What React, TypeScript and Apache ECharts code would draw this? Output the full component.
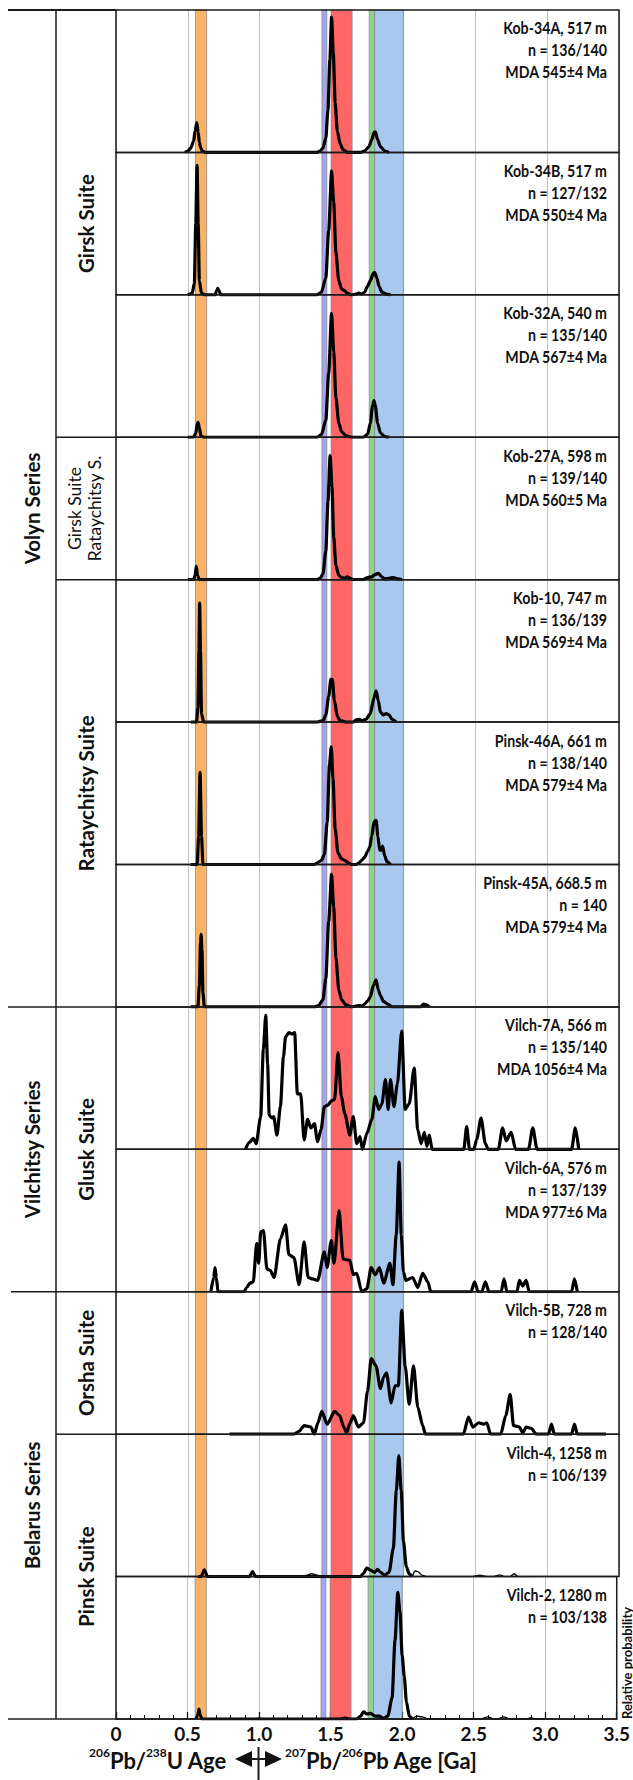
import React, { useEffect, useRef } from "react";
import * as echarts from "echarts";

type Pt = [number, number];

// ---------- data ----------
const ageTickLabels = ["0", "0.5", "1.0", "1.5", "2.0", "2.5", "3.0", "3.5"];

// reference age bands [from, to] in Ga
const bandOrange: Pt = [0.553, 0.631];
const bandPurple: Pt = [1.433, 1.467];
const bandRed: Pt = [1.497, 1.643];
const bandGreen: Pt = [1.762, 1.8];
const bandBlue: Pt = [1.8, 2.0];

// relative probability curves: [age Ga, relative probability 0..1]
const kob34A: Pt[] = [
  [0.48, 0], [0.5, 0.01], [0.52, 0.03], [0.54, 0.08], [0.55, 0.15], [0.562, 0.21], [0.572, 0.14], [0.58, 0.07], [0.59, 0.03], [0.6, 0.01], [0.62, 0],
  [1.4, 0], [1.42, 0.01], [1.44, 0.03], [1.46, 0.1], [1.475, 0.3], [1.488, 0.65], [1.5, 0.95], [1.512, 0.7], [1.525, 0.35], [1.54, 0.15], [1.56, 0.06], [1.58, 0.02], [1.61, 0],
  [1.7, 0], [1.73, 0.01], [1.76, 0.04], [1.78, 0.09], [1.795, 0.14], [1.805, 0.145], [1.82, 0.09], [1.84, 0.04], [1.87, 0.01], [1.9, 0],
];
const kob34B: Pt[] = [
  [0.5, 0], [0.53, 0.01], [0.545, 0.08], [0.555, 0.5], [0.564, 0.91], [0.572, 0.5], [0.58, 0.1], [0.595, 0.01], [0.62, 0],
  [0.69, 0], [0.7, 0.03], [0.708, 0.045], [0.716, 0.03], [0.73, 0],
  [1.4, 0], [1.43, 0.02], [1.46, 0.12], [1.48, 0.45], [1.5, 0.87], [1.515, 0.65], [1.53, 0.3], [1.55, 0.1], [1.57, 0.04], [1.59, 0.03], [1.61, 0.01], [1.64, 0],
  [1.67, 0.005], [1.69, 0.012], [1.71, 0.005], [1.73, 0.02], [1.75, 0.06], [1.77, 0.1], [1.79, 0.15], [1.8, 0.158], [1.815, 0.12], [1.83, 0.06], [1.85, 0.02], [1.88, 0.005], [1.91, 0],
];
const kob32A: Pt[] = [
  [0.5, 0], [0.54, 0], [0.555, 0.03], [0.565, 0.09], [0.571, 0.105], [0.58, 0.07], [0.59, 0.01], [0.61, 0],
  [1.4, 0], [1.43, 0.02], [1.46, 0.12], [1.48, 0.45], [1.5, 0.87], [1.515, 0.6], [1.53, 0.28], [1.55, 0.1], [1.57, 0.04], [1.6, 0.01], [1.64, 0],
  [1.72, 0], [1.75, 0.02], [1.77, 0.1], [1.785, 0.22], [1.795, 0.257], [1.805, 0.22], [1.82, 0.1], [1.84, 0.03], [1.87, 0.005], [1.9, 0],
];
const kob27A: Pt[] = [
  [0.5, 0], [0.54, 0], [0.55, 0.03], [0.559, 0.093], [0.567, 0.03], [0.58, 0],
  [1.4, 0], [1.42, 0.01], [1.44, 0.04], [1.46, 0.2], [1.475, 0.55], [1.49, 0.871], [1.503, 0.65], [1.515, 0.3], [1.53, 0.1], [1.55, 0.03], [1.57, 0.015], [1.59, 0.01], [1.61, 0.02], [1.63, 0.01], [1.65, 0],
  [1.72, 0], [1.75, 0.015], [1.78, 0.02], [1.8, 0.035], [1.825, 0.045], [1.85, 0.02], [1.87, 0.005], [1.9, 0.01], [1.93, 0.015], [1.96, 0.005], [1.99, 0],
];
const kob10: Pt[] = [
  [0.52, 0], [0.56, 0], [0.57, 0.1], [0.577, 0.5], [0.582, 0.836], [0.588, 0.5], [0.595, 0.06], [0.61, 0],
  [1.4, 0], [1.44, 0.01], [1.46, 0.05], [1.48, 0.18], [1.495, 0.3], [1.505, 0.3], [1.52, 0.15], [1.54, 0.04], [1.56, 0.01], [1.6, 0],
  [1.65, 0], [1.67, 0.015], [1.69, 0.02], [1.71, 0.01], [1.74, 0.02], [1.77, 0.06], [1.795, 0.17], [1.81, 0.22], [1.825, 0.15], [1.84, 0.07], [1.86, 0.05], [1.88, 0.06], [1.9, 0.05], [1.92, 0.02], [1.95, 0],
];
const pinsk46A: Pt[] = [
  [0.52, 0], [0.565, 0], [0.575, 0.2], [0.585, 0.647], [0.595, 0.2], [0.605, 0],
  [1.38, 0], [1.4, 0.01], [1.43, 0.03], [1.45, 0.07], [1.47, 0.3], [1.485, 0.7], [1.498, 0.826], [1.51, 0.6], [1.525, 0.25], [1.545, 0.08], [1.57, 0.04], [1.59, 0.03], [1.62, 0.01], [1.64, 0],
  [1.67, 0], [1.69, 0.01], [1.71, 0.03], [1.73, 0.05], [1.75, 0.09], [1.765, 0.12], [1.78, 0.2], [1.795, 0.3], [1.81, 0.31], [1.822, 0.2], [1.835, 0.1], [1.845, 0.1], [1.855, 0.13], [1.87, 0.06], [1.885, 0.02], [1.91, 0],
];
const pinsk45A: Pt[] = [
  [0.52, 0], [0.57, 0], [0.58, 0.15], [0.588, 0.45], [0.592, 0.51], [0.598, 0.4], [0.605, 0.1], [0.615, 0],
  [1.38, 0], [1.41, 0.01], [1.44, 0.05], [1.46, 0.2], [1.48, 0.6], [1.5, 0.93], [1.515, 0.7], [1.53, 0.35], [1.55, 0.12], [1.57, 0.05], [1.6, 0.015], [1.64, 0],
  [1.67, 0.005], [1.69, 0.01], [1.71, 0.005], [1.73, 0.02], [1.75, 0.04], [1.77, 0.07], [1.79, 0.15], [1.81, 0.19], [1.825, 0.12], [1.84, 0.08], [1.86, 0.04], [1.89, 0.02], [1.92, 0],
  [2.12, 0], [2.14, 0.02], [2.16, 0.015], [2.18, 0],
];
const vilch7A: Pt[] = [
  [0.9, 0], [0.93, 0.05], [0.955, 0.077], [0.975, 0.04], [1.007, 0.23], [1.025, 0.7], [1.042, 0.94], [1.055, 0.6], [1.066, 0.24], [1.085, 0.22], [1.097, 0.23], [1.12, 0.1],
  [1.144, 0.3], [1.165, 0.65], [1.18, 0.79], [1.203, 0.82], [1.226, 0.81], [1.243, 0.82], [1.262, 0.39], [1.285, 0.39], [1.309, 0.066], [1.333, 0.21], [1.356, 0.15], [1.38, 0.18],
  [1.403, 0.054], [1.427, 0.14], [1.45, 0.3], [1.474, 0.31], [1.498, 0.34], [1.521, 0.35], [1.545, 0.68], [1.568, 0.37], [1.592, 0.25], [1.627, 0.1], [1.651, 0.23], [1.675, 0.04],
  [1.698, 0.09], [1.715, 0], [1.745, 0.11], [1.78, 0.21], [1.804, 0.37], [1.828, 0.28], [1.85, 0.32], [1.875, 0.49], [1.894, 0.28], [1.91, 0.49], [1.934, 0.3], [1.958, 0.46],
  [1.988, 0.83], [2.012, 0.28], [2.04, 0.32], [2.075, 0.57], [2.099, 0.14], [2.123, 0.04], [2.146, 0.12], [2.163, 0.02], [2.18, 0.1], [2.2, 0],
  [2.42, 0], [2.44, 0.16], [2.46, 0], [2.49, 0], [2.51, 0.07], [2.54, 0.22], [2.57, 0.04], [2.59, 0], [2.66, 0], [2.69, 0.15], [2.715, 0.06], [2.75, 0.12], [2.78, 0],
  [2.87, 0], [2.9, 0.15], [2.93, 0], [3.17, 0], [3.196, 0.15], [3.22, 0],
];
const vilch6A: Pt[] = [
  [0.66, 0], [0.68, 0.1], [0.689, 0.17], [0.698, 0.1], [0.71, 0], [0.89, 0], [0.91, 0.03], [0.932, 0.06], [0.955, 0.07], [0.979, 0.34], [0.993, 0.2], [1.007, 0.42], [1.026, 0.43],
  [1.05, 0.16], [1.073, 0.15], [1.1, 0.1], [1.144, 0.37], [1.18, 0.47], [1.203, 0.26], [1.238, 0.24], [1.274, 0.05], [1.309, 0.35], [1.337, 0.1], [1.368, 0.09], [1.403, 0.08],
  [1.45, 0.28], [1.469, 0.17], [1.498, 0.36], [1.517, 0.2], [1.552, 0.57], [1.58, 0.23], [1.627, 0.22], [1.651, 0.12], [1.675, 0.13], [1.71, 0], [1.745, 0.02], [1.776, 0.17],
  [1.804, 0.12], [1.833, 0.17], [1.863, 0.06], [1.906, 0.2], [1.927, 0.05], [1.95, 0.4], [1.97, 0.91], [1.985, 0.4], [2.0, 0.14], [2.017, 0.08], [2.064, 0.1], [2.1, 0.03],
  [2.134, 0.13], [2.17, 0.07], [2.19, 0], [2.47, 0], [2.495, 0.07], [2.52, 0], [2.545, 0], [2.57, 0.07], [2.595, 0], [2.68, 0], [2.7, 0.09], [2.72, 0], [2.79, 0], [2.807, 0.08],
  [2.83, 0.04], [2.854, 0.08], [2.875, 0], [3.17, 0], [3.19, 0.09], [3.21, 0],
];
const vilch5B: Pt[] = [
  [0.79, 0], [1.238, 0], [1.274, 0.02], [1.309, 0.06], [1.356, 0.05], [1.38, 0], [1.405, 0.08], [1.432, 0.16], [1.469, 0.07], [1.521, 0.16], [1.557, 0.13], [1.585, 0.05],
  [1.604, 0.01], [1.63, 0.08], [1.651, 0.13], [1.686, 0.05], [1.722, 0.08], [1.75, 0.3], [1.776, 0.53], [1.809, 0.48], [1.84, 0.32], [1.862, 0.4], [1.882, 0.43], [1.915, 0.22],
  [1.941, 0.34], [1.965, 0.34], [1.988, 0.87], [2.012, 0.48], [2.04, 0.21], [2.07, 0.48], [2.1, 0.19], [2.134, 0.06], [2.153, 0], [2.417, 0], [2.453, 0.12], [2.483, 0.05],
  [2.524, 0.08], [2.56, 0.07], [2.58, 0.08], [2.606, 0], [2.677, 0], [2.712, 0.13], [2.743, 0.28], [2.766, 0.06], [2.807, 0.05], [2.83, 0.01], [2.854, 0.05], [2.89, 0.04],
  [2.925, 0], [3.01, 0], [3.03, 0.07], [3.05, 0], [3.17, 0], [3.19, 0.07], [3.21, 0], [3.41, 0],
];
const vilch4: Pt[] = [
  [0.57, 0], [0.595, 0], [0.605, 0.03], [0.614, 0.047], [0.623, 0.03], [0.635, 0],
  [0.93, 0], [0.94, 0.02], [0.95, 0.035], [0.96, 0.02], [0.97, 0],
  [1.7, 0], [1.72, 0.02], [1.745, 0.06], [1.77, 0.045], [1.8, 0.03], [1.82, 0.05], [1.84, 0.03], [1.87, 0.01], [1.9, 0.03], [1.93, 0.2], [1.95, 0.6], [1.968, 0.85],
  [1.985, 0.6], [2.0, 0.25], [2.02, 0.07], [2.04, 0.02], [2.06, 0],
];
const vilch4Thin: Pt[] = [
  [0.62, 0], [1.28, 0], [1.33, 0.01], [1.36, 0.02], [1.4, 0.01], [1.43, 0], [1.7, 0], [2.06, 0], [2.08, 0.04], [2.1, 0.035], [2.13, 0.01], [2.16, 0],
  [2.48, 0], [2.53, 0.01], [2.58, 0], [2.63, 0], [2.67, 0.012], [2.7, 0], [2.74, 0], [2.77, 0.02], [2.8, 0], [2.9, 0],
];
const vilch2: Pt[] = [
  [0.56, 0], [0.572, 0.03], [0.58, 0.07], [0.588, 0.03], [0.6, 0],
  [1.68, 0], [1.71, 0.02], [1.73, 0.05], [1.755, 0.035], [1.78, 0.04], [1.81, 0.02], [1.84, 0.02], [1.87, 0.005], [1.9, 0.02], [1.93, 0.15], [1.95, 0.55], [1.97, 0.89],
  [1.985, 0.75], [2.0, 0.45], [2.015, 0.3], [2.03, 0.12], [2.05, 0.02], [2.07, 0],
];
const vilch2Thin: Pt[] = [
  [0.6, 0], [0.95, 0], [1.0, 0.005], [1.05, 0], [1.55, 0], [1.6, 0.012], [1.65, 0], [1.68, 0], [2.07, 0], [2.1, 0.02], [2.14, 0.015], [2.18, 0],
  [2.55, 0], [2.6, 0.015], [2.64, 0], [2.67, 0], [2.71, 0.015], [2.75, 0], [2.87, 0], [2.9, 0.01], [2.93, 0], [3.0, 0],
];

const sampleNames = [
  "Kob-34A, 517 m", "Kob-34B, 517 m", "Kob-32A, 540 m", "Kob-27A, 598 m", "Kob-10, 747 m", "Pinsk-46A, 661 m",
  "Pinsk-45A, 668.5 m", "Vilch-7A, 566 m", "Vilch-6A, 576 m", "Vilch-5B, 728 m", "Vilch-4, 1258 m", "Vilch-2, 1280 m",
];
const sampleCounts = [
  "n = 136/140", "n = 127/132", "n = 135/140", "n = 139/140", "n = 136/139", "n = 138/140",
  "n = 140", "n = 135/140", "n = 137/139", "n = 128/140", "n = 106/139", "n = 103/138",
];
const sampleMDA = [
  "MDA 545±4 Ma", "MDA 550±4 Ma", "MDA 567±4 Ma", "MDA 560±5 Ma", "MDA 569±4 Ma", "MDA 579±4 Ma",
  "MDA 579±4 Ma", "MDA 1056±4 Ma", "MDA 977±6 Ma", "", "", "",
];

const seriesNames = ["Volyn Series", "Vilchitsy Series", "Belarus Series"];
const seriesSpans: Pt[] = [[0, 7], [7, 9], [9, 12]];
const suiteNames = ["Girsk Suite", "", "Rataychitsy Suite", "Glusk Suite", "Orsha Suite", "Pinsk Suite"];
const suiteSpans: Pt[] = [[0, 3], [3, 4], [4, 7], [7, 9], [9, 10], [10, 12]];
const mixedSuiteLines = ["Girsk Suite", "Rataychitsy S."];

const panelCurves: Pt[][] = [kob34A, kob34B, kob32A, kob27A, kob10, pinsk46A, pinsk45A, vilch7A, vilch6A, vilch5B, vilch4, vilch2];
const panelThinCurves: (Pt[] | null)[] = [null, null, null, null, null, null, null, null, null, null, vilch4Thin, vilch2Thin];
const bands: Pt[] = [bandOrange, bandPurple, bandRed, bandGreen, bandBlue];

// ---------- styles / layout ----------
const bandFill = ["#f9b266", "#a4a4f2", "#ff6666", "#8fd18f", "#a9c8ee"];
const FONT = "Lato";
const INK = "#111";
const W = 633;
const H = 1780;
const plotL = 116;
const plotR = 619;
const plotT = 10;
const plotB = 1719;
const colX = 56;

export default function App() {
  const ref = useRef<HTMLDivElement>(null);
  useEffect(() => {
    if (!ref.current) return;
    const chart = echarts.init(ref.current, undefined, { renderer: "svg" });
    const n = panelCurves.length;
    const ph = (plotB - plotT) / n;
    const pTop = (i: number) => plotT + i * ph;

    const grids = panelCurves.map((_, i) => ({
      left: plotL,
      top: pTop(i),
      width: plotR - plotL,
      height: ph,
      show: true,
      borderColor: "#1b1b1b",
      borderWidth: 1.5,
      backgroundColor: "transparent",
      z: 6,
    }));

    const xAxes = panelCurves.map((_, i) => {
      const last = i === n - 1;
      return {
        type: "value",
        gridIndex: i,
        min: 0,
        max: 3.5,
        interval: 0.5,
        splitLine: { show: true, lineStyle: { color: "#c3c3c3", width: 1 } },
        axisLine: { show: last, lineStyle: { color: INK, width: 1.5 } },
        axisTick: { show: last, inside: true, length: 7, lineStyle: { color: INK, width: 1.3 } },
        minorTick: { show: last, splitNumber: 5, length: 4, lineStyle: { color: INK, width: 1 } },
        axisLabel: {
          show: last,
          margin: 5,
          color: INK,
          fontFamily: FONT,
          fontWeight: "bold",
          fontSize: 19,
          formatter: (v: number) => ageTickLabels[Math.round(v / 0.5)] ?? String(v),
        },
      };
    });

    const yAxes = panelCurves.map((_, i) => ({
      type: "value",
      gridIndex: i,
      min: 0,
      max: 1,
      show: false,
      splitLine: { show: false },
    }));

    const series: any[] = [];
    panelCurves.forEach((curve, i) => {
      series.push({
        type: "line",
        xAxisIndex: i,
        yAxisIndex: i,
        data: curve,
        showSymbol: false,
        symbol: "none",
        smooth: 0.25,
        smoothMonotone: "x",
        silent: true,
        z: 3,
        lineStyle: { color: "#000", width: 3.2 },
        markArea: {
          silent: true,
          data: bands.map((b, k) => [
            { xAxis: b[0], itemStyle: { color: bandFill[k], borderColor: "#8c8c8c", borderWidth: 0.8 } },
            { xAxis: b[1] },
          ]),
        },
      });
      const thin = panelThinCurves[i];
      if (thin) {
        series.push({
          type: "line",
          xAxisIndex: i,
          yAxisIndex: i,
          data: thin,
          showSymbol: false,
          symbol: "none",
          smooth: 0.25,
          smoothMonotone: "x",
          silent: true,
          z: 3,
          lineStyle: { color: "#000", width: 1.4 },
        });
      }
    });

    const graphic: any[] = [];
    const line = (x1: number, y1: number, x2: number, y2: number, w = 1.5) => ({
      type: "line",
      silent: true,
      z: 20,
      shape: { x1, y1, x2, y2 },
      style: { stroke: "#1b1b1b", lineWidth: w },
    });
    const text = (t: string, x: number, y: number, size: number, align: string, rot = 0, weight = "bold", sx = 1) => ({
      type: "text",
      silent: true,
      z: 20,
      x,
      y,
      rotation: rot,
      scaleX: sx,
      style: {
        text: t,
        fontFamily: FONT,
        fontWeight: weight,
        fontSize: size,
        fill: INK,
        textAlign: align,
        textVerticalAlign: "middle",
        verticalAlign: "middle",
      },
    });

    // left-column frame
    graphic.push(line(8, plotT, plotL, plotT, 2));
    graphic.push(line(8, plotB, plotL, plotB, 1.5));
    graphic.push(line(colX, plotT, colX, plotB, 1.5));
    graphic.push(line(8, pTop(7), plotL, pTop(7)));
    graphic.push(line(11, pTop(9), plotL, pTop(9)));
    graphic.push(line(colX, pTop(3), plotL, pTop(3)));
    graphic.push(line(colX, pTop(4), plotL, pTop(4)));
    graphic.push(line(colX, pTop(10), plotL, pTop(10)));

    seriesNames.forEach((s, k) => {
      const [a, b] = seriesSpans[k];
      graphic.push(text(s, 32, (pTop(a) + pTop(b)) / 2, 20.5, "center", Math.PI / 2));
    });
    suiteNames.forEach((s, k) => {
      if (!s) return;
      const [a, b] = suiteSpans[k];
      graphic.push(text(s, 86, (pTop(a) + pTop(b)) / 2, 20.5, "center", Math.PI / 2));
    });
    {
      const [a, b] = suiteSpans[1];
      const cy = (pTop(a) + pTop(b)) / 2;
      graphic.push(text(mixedSuiteLines[0], 74, cy, 17.5, "center", Math.PI / 2, "normal"));
      graphic.push(text(mixedSuiteLines[1], 94, cy, 17.5, "center", Math.PI / 2, "normal"));
    }

    // sample labels
    panelCurves.forEach((_, i) => {
      const lines = [sampleNames[i], sampleCounts[i], sampleMDA[i]].filter((t) => t);
      lines.forEach((t, k) => graphic.push(text(t, 607, pTop(i) + 18 + k * 22, 16.5, "right", 0, "bold", 0.86)));
    });

    // right-edge title
    graphic.push(text("Relative probability", 626.5, plotB, 13, "left", Math.PI / 2));

    // axis title
    const rich = {
      s: { fontSize: 12, fontFamily: FONT, fontWeight: "bold", fill: INK, color: INK, verticalAlign: "top", lineHeight: 25 },
      t: { fontSize: 22, fontFamily: FONT, fontWeight: "bold", fill: INK, color: INK, verticalAlign: "bottom", lineHeight: 25 },
    };
    const ty = 1759;
    graphic.push({
      type: "text",
      silent: true,
      z: 20,
      x: 89,
      y: ty,
      style: { text: "{s|206}{t|Pb/}{s|238}{t|U Age}", rich, textAlign: "left", textVerticalAlign: "middle", verticalAlign: "middle" },
    });
    graphic.push({
      type: "text",
      silent: true,
      z: 20,
      x: 285,
      y: ty,
      style: { text: "{s|207}{t|Pb/}{s|206}{t|Pb Age [Ga]}", rich, textAlign: "left", textVerticalAlign: "middle", verticalAlign: "middle" },
    });
    graphic.push({ type: "polygon", silent: true, z: 20, shape: { points: [[235, ty], [252, ty - 8], [252, ty + 8]] }, style: { fill: INK } });
    graphic.push({ type: "polygon", silent: true, z: 20, shape: { points: [[282, ty], [265, ty - 8], [265, ty + 8]] }, style: { fill: INK } });
    graphic.push(line(258.5, ty - 12, 258.5, H, 2));
    graphic.push(line(250, ty, 267, ty, 2));

    chart.setOption({
      animation: false,
      backgroundColor: "#fff",
      grid: grids,
      xAxis: xAxes,
      yAxis: yAxes,
      series,
      graphic,
    });
    return () => chart.dispose();
  }, []);
  return <div ref={ref} style={{ position: "absolute", left: 0, top: 0, width: W, height: H }} />;
}
